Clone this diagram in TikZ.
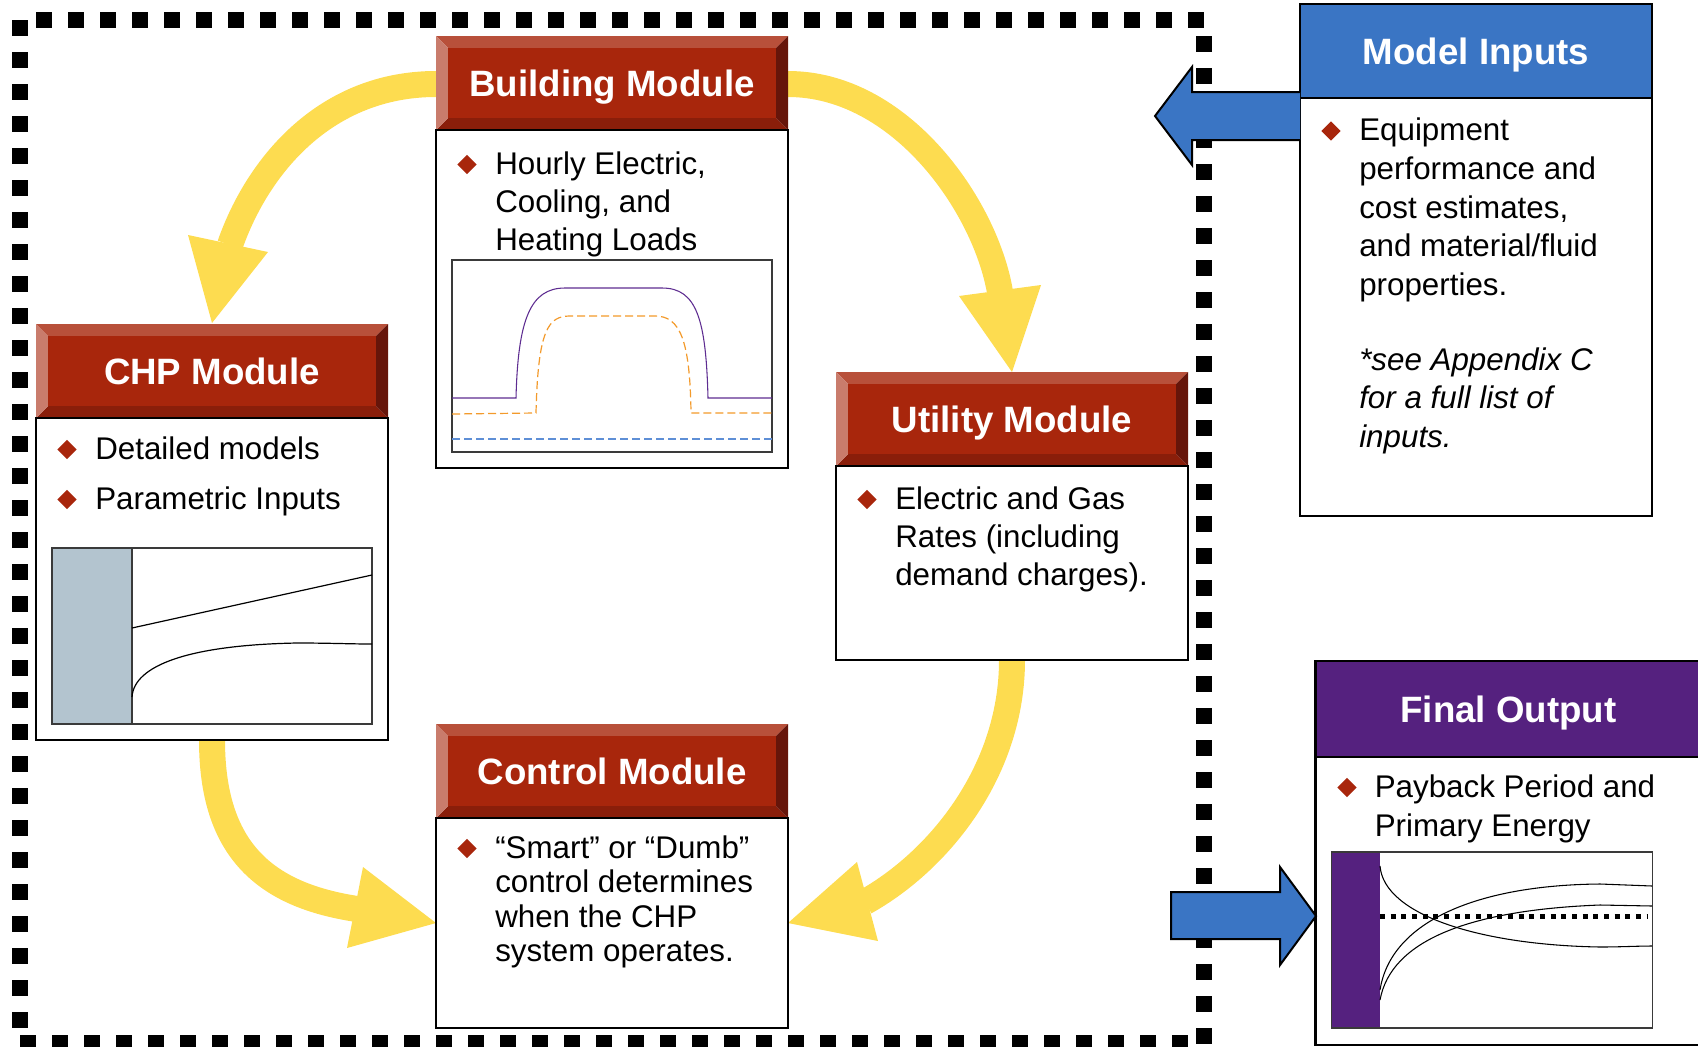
\documentclass[tikz,border=0pt]{standalone}
\usepackage{fontspec}
\setmainfont{Liberation Sans}
\definecolor{hdrred}{HTML}{A8260C}
\definecolor{bvtop}{HTML}{B8503A}
\definecolor{bvleft}{HTML}{C97C6C}
\definecolor{bvbot}{HTML}{8A1E0A}
\definecolor{bvright}{HTML}{66150A}
\definecolor{ylw}{HTML}{FDDC50}
\definecolor{bulred}{HTML}{A8260C}
\definecolor{arrblue}{HTML}{3A75C4}
\definecolor{outpurple}{HTML}{55217F}
\definecolor{chartfill}{HTML}{B3C4CF}
\definecolor{chartgray}{HTML}{3A3A3A}
\definecolor{curvepurple}{HTML}{5E2D91}
\definecolor{curveorange}{HTML}{F39A2B}
\definecolor{curveblue}{HTML}{5E8FD6}
\newcommand\lns[1]{\begin{tabular}[t]{@{}l@{}}#1\end{tabular}}
\newcommand\modhdr[4]{%
  \fill[bvtop] (#1,#2) -- (#3,#2) -- ({#3-12},{#2+12}) -- ({#1+12},{#2+12}) -- cycle;
  \fill[bvbot] (#1,#4) -- (#3,#4) -- ({#3-12},{#4-12}) -- ({#1+12},{#4-12}) -- cycle;
  \fill[bvleft] (#1,#2) -- ({#1+12},{#2+12}) -- ({#1+12},{#4-12}) -- (#1,#4) -- cycle;
  \fill[bvright] (#3,#2) -- ({#3-12},{#2+12}) -- ({#3-12},{#4-12}) -- (#3,#4) -- cycle;
  \fill[hdrred] ({#1+12},{#2+12}) rectangle ({#3-12},{#4-12});}
\newcommand\bul[2]{\fill[bulred] ({#1-9.7},#2) -- (#1,{#2-9.7}) -- ({#1+9.7},#2) -- (#1,{#2+9.7}) -- cycle;}
\begin{document}
\begin{tikzpicture}[x=0.75pt,y=-0.75pt,
  title/.style={font=\fontsize{27.5}{33}\selectfont\bfseries, text=white, anchor=base, inner sep=0pt},
  body/.style={font=\fontsize{23.5}{28.5}\selectfont, anchor=base west, inner sep=0pt},
  box/.style={draw=black, line width=1.8pt, fill=white},
  chart/.style={draw=chartgray, line width=0.9pt},
  ybar/.style={draw=ylw, line width=19.5pt},
  yhead/.style={fill=ylw},
  bluearrow/.style={fill=arrblue, draw=black, line width=1.5pt, line join=miter},
  dashrow/.style={line width=12pt, dash pattern=on 12pt off 12pt}]
\useasboundingbox (0,0) rectangle (1698,1046);

% dashed frame
\draw[dashrow] (36,20) -- (1204,20);
\draw[dashrow] (1204,36) -- (1204,1046);
\draw[dashrow] (20,20) -- (20,1036);
\draw[dashrow] (20,1043) -- (1190,1043);

% yellow arrows
\coordinate (y1s) at (436,84);  \coordinate (y1e) at (230,245);
\coordinate (y2s) at (788,84);  \coordinate (y2e) at (1000,292);
\coordinate (y3s) at (212,740); \coordinate (y3e) at (357,909);
\coordinate (y4s) at (1012,660);\coordinate (y4e) at (865,902);
\draw[ybar] (y1s) .. controls (326,84) and (258,165) .. (y1e);
\fill[yhead] (188,235) -- (268,252) -- (212,323) -- cycle;
\draw[ybar] (y2s) .. controls (900,84) and (985,205) .. (y2e);
\fill[yhead] (959,296) -- (1041,285) -- (1012,372) -- cycle;
\draw[ybar] (y3s) .. controls (212,850) and (265,895) .. (y3e);
\fill[yhead] (363,867) -- (347,948) -- (436,923) -- cycle;
\draw[ybar] (y4s) .. controls (1012,770) and (940,860) .. (y4e);
\fill[yhead] (857,862) -- (878,941) -- (788,923) -- cycle;

% Building module
\modhdr{436}{36}{788}{130}
\draw[box] (436,130) rectangle (788,468);
\node[title] (btitle) at (612,96) {Building Module};
\bul{467}{164.5}
\node[body] (btxt) at (495,174) {\lns{Hourly Electric,\\Cooling, and\\Heating Loads}};
\draw[chart, fill=white] (452,260) rectangle (772,452);
\draw[curvepurple, line width=0.8pt] (452,398) -- (516,398) .. controls (518,320) and (530,288) .. (565,288) -- (662,288) .. controls (697,288) and (706,320) .. (708,398) -- (772,398);
\draw[curveorange, line width=0.9pt, dash pattern=on 6pt off 3pt] (452,414) -- (536,413) .. controls (538,330) and (548,316) .. (570,316) -- (655,316) .. controls (680,316) and (690,340) .. (691,413) -- (772,413);
\draw[curveblue, line width=0.9pt, dash pattern=on 6pt off 3pt] (452,439) -- (772,439);

% CHP module
\modhdr{36}{324}{388}{418}
\draw[box] (36,418) rectangle (388,740);
\node[title] (ctitle) at (212,384) {CHP Module};
\bul{67}{449.5}
\node[body] (ctxta) at (95,459) {Detailed models};
\bul{67}{499.5}
\node[body] (ctxtb) at (95,509) {Parametric Inputs};
\fill[white] (52,548) rectangle (372,724);
\fill[chartfill] (52,548) rectangle (132,724);
\draw[chart] (52,548) rectangle (372,724);
\draw[chart] (132,548) -- (132,724);
\draw[black, line width=0.9pt] (132,628) -- (372,575);
\draw[black, line width=0.9pt] (132,697) .. controls (134,665) and (190,645) .. (297,643) .. controls (330,643) and (350,644) .. (372,644);

% Utility module
\modhdr{836}{372}{1188}{466}
\draw[box] (836,466) rectangle (1188,660);
\node[title] (utitle) at (1012,432) {Utility Module};
\bul{867}{499.5}
\node[body] (utxt) at (895,509) {\lns{Electric and Gas\\Rates (including\\demand charges).}};

% Control module
\modhdr{436}{724}{788}{818}
\draw[box] (436,818) rectangle (788,1028);
\node[title] (ktitle) at (612,784) {Control Module};
\bul{467}{848.5}
\node[body, font=\fontsize{23.5}{25.9}\selectfont] (ktxt) at (495,858) {\lns{“Smart” or “Dumb”\\control determines\\when the CHP\\system operates.}};

% Model inputs
\draw[box] (1300,98) rectangle (1652,516);
\draw[box, fill=arrblue] (1300,4) rectangle (1652,98);
\node[title] (mtitle) at (1476,64) {Model Inputs};
\bul{1331}{131}
\node[body, font=\fontsize{23.5}{29.1}\selectfont] (mtxt) at (1359,140.5) {\lns{Equipment\\performance and\\cost estimates,\\and material/fluid\\properties.}};
\node[body, font=\fontsize{23.5}{29}\selectfont\itshape] (mtxtb) at (1359,370) {\lns{*see Appendix C\\for a full list of\\inputs.}};

% Final output
\draw[box] (1315.5,757) rectangle (1720,1045);
\draw[box, fill=outpurple] (1315.5,661) rectangle (1720,757);
\node[title] (ftitle) at (1508.5,722) {Final Output};
\bul{1347}{787.5}
\node[body, font=\fontsize{23.5}{29}\selectfont] (ftxt) at (1374.5,797.5) {\lns{Payback Period and\\Primary Energy}};
\fill[white] (1331.5,852) rectangle (1652.5,1028);
\fill[outpurple] (1331.5,852) rectangle (1380,1028);
\draw[chart] (1331.5,852) rectangle (1652.5,1028);
\draw[black, line width=3.75pt, dash pattern=on 3.75pt off 4.25pt] (1380,916) -- (1647,916);
\draw[black, line width=0.8pt] (1380,866) .. controls (1384,915) and (1480,945) .. (1600,947) .. controls (1620,947) and (1638,946) .. (1652,946);
\draw[black, line width=0.8pt] (1380,990) .. controls (1391,920) and (1480,885) .. (1600,884) -- (1652,886);
\draw[black, line width=0.8pt] (1380,1000) .. controls (1391,940) and (1470,910) .. (1600,905) -- (1652,906);

% blue arrows
\draw[bluearrow] (1300,92) -- (1192,92) -- (1192,67) -- (1155,116) -- (1192,165) -- (1192,140) -- (1300,140);
\draw[bluearrow] (1171,892) -- (1280,892) -- (1280,867) -- (1316,916) -- (1280,965) -- (1280,939) -- (1171,939) -- cycle;
\end{tikzpicture}
\end{document}
